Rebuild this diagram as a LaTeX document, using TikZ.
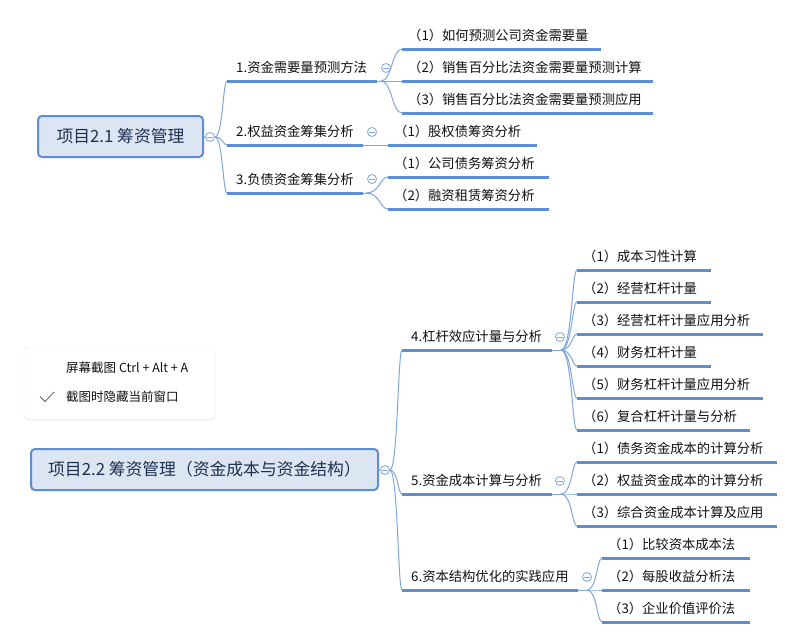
\documentclass[tikz,border=0pt]{standalone}
\usepackage{fontspec}
\setmainfont{Noto Sans CJK SC}
\usetikzlibrary{calc,shadows}
\definecolor{ul}{HTML}{5B8ED6}
\definecolor{cn}{HTML}{7FA7DE}
\definecolor{boxfill}{HTML}{DCE6F3}
\definecolor{roottext}{HTML}{1F2F4F}
\definecolor{txt}{HTML}{111111}
\newcommand\brc[3]{\draw[conn] (#1) .. controls ($(#1)+(#3,0)$) and ($(#1|-#2)+(#3,0)$) .. (#2);}
\begin{document}
\begin{tikzpicture}[x=1pt,y=-1pt,
  uline/.style={draw=ul,line width=3pt},
  conn/.style={draw=cn,line width=1pt},
  lab/.style={inner sep=0pt,anchor=base west,text=txt,font=\fontsize{13.3}{15}\selectfont},
  rootbox/.style={draw=ul,line width=2pt,fill=boxfill,rounded corners=4pt,text=roottext,font=\fontsize{16.8}{19}\selectfont},
  circ/.style={circle,draw=cn,fill=white,line width=0.8pt,minimum size=9pt,inner sep=0pt,
    path picture={\draw[cn,line width=0.8pt] ([xshift=-2.6pt]path picture bounding box.center) -- ([xshift=2.6pt]path picture bounding box.center);}},
  menutext/.style={inner sep=0pt,anchor=west,text=txt,font=\fontsize{12.5}{14}\selectfont}]
\useasboundingbox (0,0) rectangle (785,643);
\fill[white] (0,0) rectangle (785,643);

% ---------------- top map ----------------
\node[rootbox,minimum width=165pt,minimum height=41pt] (r1) at (120.5,136.5) {项目2.1 筹资管理};
\node[circ] (cr1) at (210,137) {};
\draw[conn] (r1.east) -- (cr1.west);

\coordinate (a1) at (227,81);  \coordinate (a1e) at (377,81);
\coordinate (a2) at (227,145); \coordinate (a2e) at (363,145);
\coordinate (a3) at (227,193); \coordinate (a3e) at (363,193);
\brc{cr1.east}{a1}{8}
\brc{cr1.east}{a2}{8}
\brc{cr1.east}{a3}{8}
\draw[uline] (a1) -- (a1e);
\draw[uline] (a2) -- (a2e);
\draw[uline] (a3) -- (a3e);
\node[lab] (ta1) at (236,72.5) {1.资金需要量预测方法};
\node[lab] (ta2) at (236,136.5) {2.权益资金筹集分析};
\node[lab] (ta3) at (236,184.5) {3.负债资金筹集分析};
\node[circ] (ca1) at (386,68) {};
\node[circ] (ca2) at (372,132) {};
\node[circ] (ca3) at (372,179) {};

% children of 1
\coordinate (sa1) at (381,81);
\coordinate (b11) at (402,49);  \coordinate (b11e) at (601,49);
\coordinate (b12) at (402,81);  \coordinate (b12e) at (653,81);
\coordinate (b13) at (402,113); \coordinate (b13e) at (653,113);
\draw[conn] (a1e) -- (sa1);
\brc{sa1}{b11}{11}
\brc{sa1}{b12}{11}
\brc{sa1}{b13}{11}
\draw[uline] (b11) -- (b11e);
\draw[uline] (b12) -- (b12e);
\draw[uline] (b13) -- (b13e);
\node[lab] (tb11) at (408,40.5) {（1）如何预测公司资金需要量};
\node[lab] (tb12) at (408,72.5) {（2）销售百分比法资金需要量预测计算};
\node[lab] (tb13) at (408,104.5) {（3）销售百分比法资金需要量预测应用};

% child of 2
\coordinate (b21) at (388,145); \coordinate (b21e) at (537,145);
\draw[conn] (a2e) -- (b21);
\draw[uline] (b21) -- (b21e);
\node[lab] (tb21) at (394,136.5) {（1）股权债筹资分析};

% children of 3
\coordinate (sa3) at (366,193);
\coordinate (b31) at (388,177); \coordinate (b31e) at (549,177);
\coordinate (b32) at (388,209); \coordinate (b32e) at (549,209);
\draw[conn] (a3e) -- (sa3);
\brc{sa3}{b31}{14}
\brc{sa3}{b32}{14}
\draw[uline] (b31) -- (b31e);
\draw[uline] (b32) -- (b32e);
\node[lab] (tb31) at (394,168.5) {（1）公司债务筹资分析};
\node[lab] (tb32) at (394,200.5) {（2）融资租赁筹资分析};

% ---------------- popup menu ----------------
\node[draw=black!8,fill=white,rounded corners=4pt,minimum width=191pt,minimum height=72pt,
  drop shadow={opacity=0.12,shadow xshift=0pt,shadow yshift=-1.5pt}] (menu) at (119.5,383) {};
\node[menutext] (m1) at (66,368) {屏幕截图 Ctrl + Alt + A};
\node[menutext] (m2) at (66,397) {截图时隐藏当前窗口};
\draw[black!60,line width=0.8pt] (40,396.5) -- (45,401.5) -- (54,392);

% ---------------- bottom map ----------------
\node[rootbox,minimum width=347pt,minimum height=41pt] (r2) at (204.5,469.5) {项目2.2 筹资管理（资金成本与资金结构）};
\node[circ] (cr2) at (385,470) {};
\draw[conn] (r2.east) -- (cr2.west);

\coordinate (d4) at (402,350); \coordinate (d4e) at (552,350);
\coordinate (d5) at (402,494); \coordinate (d5e) at (552,494);
\coordinate (d6) at (402,590); \coordinate (d6e) at (578,590);
\brc{cr2.east}{d4}{8}
\brc{cr2.east}{d5}{8}
\brc{cr2.east}{d6}{8}
\draw[uline] (d4) -- (d4e);
\draw[uline] (d5) -- (d5e);
\draw[uline] (d6) -- (d6e);
\node[lab] (td4) at (411,341.5) {4.杠杆效应计量与分析};
\node[lab] (td5) at (411,485.5) {5.资金成本计算与分析};
\node[lab] (td6) at (411,581.5) {6.资本结构优化的实践应用};
\node[circ] (cd4) at (560,337) {};
\node[circ] (cd5) at (560,481) {};
\node[circ] (cd6) at (587,577) {};

% children of 4
\coordinate (sd4) at (561,350);
\draw[conn] (d4e) -- (sd4);
\foreach \n/\y/\xe/\t in {1/270/711/（1）成本习性计算,
                          2/302/711/（2）经营杠杆计量,
                          3/334/763/（3）经营杠杆计量应用分析,
                          4/366/711/（4）财务杠杆计量,
                          5/398/763/（5）财务杠杆计量应用分析,
                          6/430/750/（6）复合杠杆计量与分析}{
  \coordinate (e\n) at (577,\y); \coordinate (e\n e) at (\xe,\y);
  \brc{sd4}{e\n}{11}
  \draw[uline] (e\n) -- (e\n e);
  \node[lab] (te\n) at (583,\y-8.5) {\t};
}

% children of 5
\coordinate (sd5) at (561,494);
\draw[conn] (d5e) -- (sd5);
\foreach \n/\y/\t in {1/462/（1）债务资金成本的计算分析,
                      2/494/（2）权益资金成本的计算分析,
                      3/526/（3）综合资金成本计算及应用}{
  \coordinate (f\n) at (577,\y); \coordinate (f\n e) at (777,\y);
  \brc{sd5}{f\n}{11}
  \draw[uline] (f\n) -- (f\n e);
  \node[lab] (tf\n) at (583,\y-8.5) {\t};
}

% children of 6
\coordinate (sd6) at (587,590);
\draw[conn] (d6e) -- (sd6);
\foreach \n/\y/\t in {1/558/（1）比较资本成本法,
                      2/590/（2）每股收益分析法,
                      3/622/（3）企业价值评价法}{
  \coordinate (g\n) at (602,\y); \coordinate (g\n e) at (750,\y);
  \brc{sd6}{g\n}{10}
  \draw[uline] (g\n) -- (g\n e);
  \node[lab] (tg\n) at (608,\y-8.5) {\t};
}
\end{tikzpicture}
\end{document}
